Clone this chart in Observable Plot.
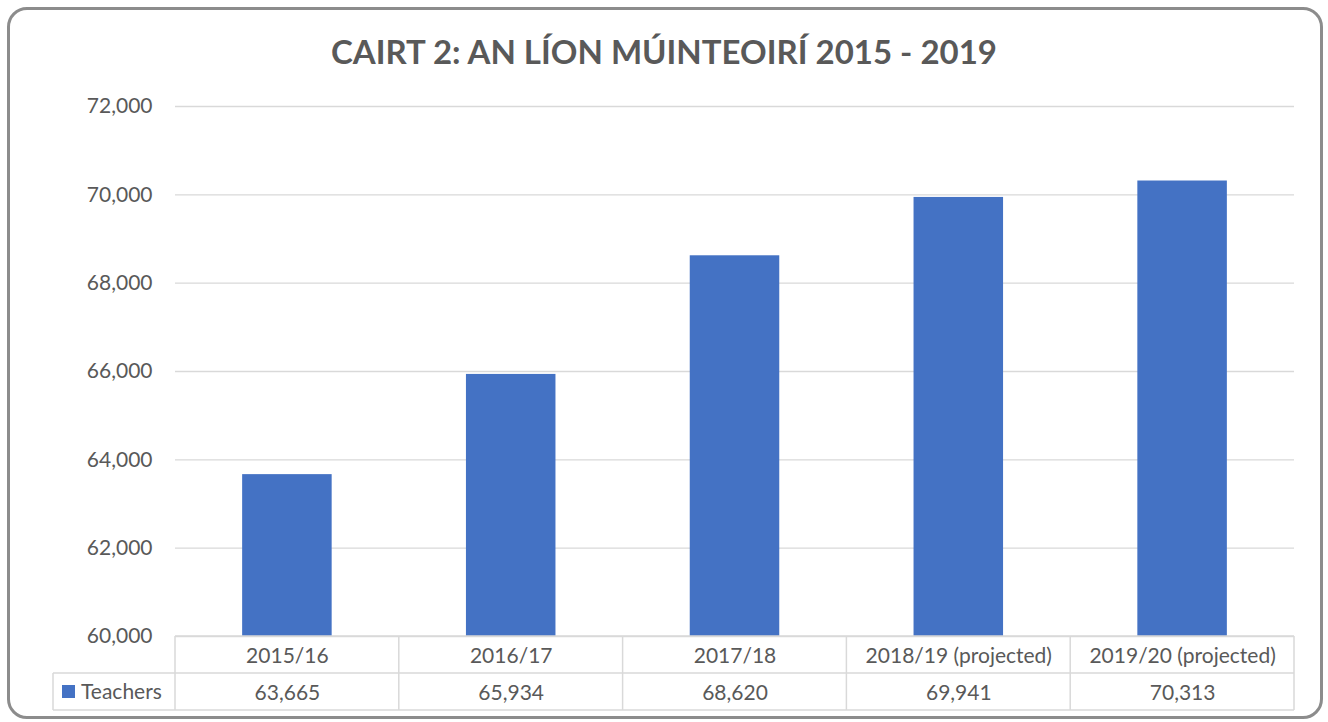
<!DOCTYPE html>
<html>
<head>
<meta charset="utf-8">
<script src="https://cdn.jsdelivr.net/npm/d3@7"></script>
<script src="https://cdn.jsdelivr.net/npm/@observablehq/plot@0.6"></script>
<style>
  html, body { margin: 0; padding: 0; background: #fff; }
  #wrap { position: relative; width: 1328px; height: 722px; overflow: hidden; font-family: Lato, "Open Sans", sans-serif; }
  #frame { position: absolute; left: 7px; top: 7px; width: 1310px; height: 706px; border: 3px solid #8c8c8c; border-radius: 20px; pointer-events: none; }
  #title { position: absolute; left: 0; width: 1328px; top: 30px; text-align: center; font-weight: bold; font-size: 33px; color: #595959; line-height: 42px; }
  #chart { position: absolute; left: 0; top: 0; }
</style>
</head>
<body>
<div id="wrap">
  <div id="chart"></div>
  <div id="title">CAIRT 2: AN LÍON MÚINTEOIRÍ 2015 - 2019</div>
  <div id="frame"></div>
</div>
<script>
const categories = ["2015/16", "2016/17", "2017/18", "2018/19 (projected)", "2019/20 (projected)"];
const teachers = [63665, 65934, 68620, 69941, 70313];
const seriesName = "Teachers";
const yTicks = [60000, 62000, 64000, 66000, 68000, 70000, 72000];

const data = categories.map((c, i) => ({category: c, value: teachers[i]}));
const fmt = d3.format(",");
const yMin = yTicks[0];
const textColor = "#595959";
const gridColor = "#d9d9d9";
const barColor = "#4472C4";
const rowH = 37;

const plot = Plot.plot({
  width: 1328,
  height: 722,
  marginTop: 106,
  marginBottom: 86,
  marginLeft: 175,
  marginRight: 34,
  style: {fontFamily: "Lato, 'Open Sans', sans-serif", fontSize: "21px", color: textColor, background: "transparent"},
  x: {domain: categories, paddingInner: 0.6, paddingOuter: 0.3, round: false, axis: null},
  y: {domain: [yTicks[0], yTicks[yTicks.length - 1]], axis: null},
  marks: [
    Plot.gridY(yTicks, {stroke: gridColor, strokeOpacity: 1, strokeWidth: 1.3}),
    Plot.axisY(yTicks, {tickSize: 0, tickPadding: 23, tickFormat: fmt, label: null, fill: textColor, fontSize: 21}),
    Plot.barY(data, {x: "category", y1: () => yMin, y2: "value", fill: barColor}),
    Plot.text(data, {x: "category", y: () => yMin, text: "category", dy: rowH / 2 + 1, fill: textColor, fontSize: 21}),
    Plot.text(data, {x: "category", y: () => yMin, text: d => fmt(d.value), dy: rowH * 1.5 + 1, fill: textColor, fontSize: 21})
  ]
});
document.getElementById("chart").appendChild(plot);

// data-table grid lines, positioned from the plot's own scales
const xs = plot.scale("x");
const ys = plot.scale("y");
const svg = d3.select(plot);
const y0 = ys.apply(yMin);
const edges = categories.map(c => xs.apply(c) + xs.bandwidth / 2 - xs.step / 2);
edges.push(edges[edges.length - 1] + xs.step);
const xLeft = edges[0], xRight = edges[edges.length - 1];
const legendLeft = 53;
const g = svg.append("g").attr("stroke", gridColor).attr("stroke-width", 1.5).attr("fill", "none");
g.append("line").attr("x1", xLeft).attr("x2", xRight).attr("y1", y0).attr("y2", y0);
g.append("line").attr("x1", legendLeft).attr("x2", xRight).attr("y1", y0 + rowH).attr("y2", y0 + rowH);
g.append("line").attr("x1", legendLeft).attr("x2", xRight).attr("y1", y0 + 2 * rowH).attr("y2", y0 + 2 * rowH);
g.append("line").attr("x1", legendLeft).attr("x2", legendLeft).attr("y1", y0 + rowH).attr("y2", y0 + 2 * rowH);
edges.forEach(e => g.append("line").attr("x1", e).attr("x2", e).attr("y1", y0).attr("y2", y0 + 2 * rowH));
// legend key in the table
svg.append("rect").attr("x", legendLeft + 9).attr("y", y0 + rowH * 1.5 - 6.5).attr("width", 13).attr("height", 13).attr("fill", barColor);
svg.append("text").attr("x", legendLeft + 28).attr("y", y0 + rowH * 1.5 + 1).attr("dy", "0.32em")
  .attr("text-anchor", "start")
  .attr("fill", textColor).attr("font-size", 21).attr("font-family", "Lato, 'Open Sans', sans-serif").text(seriesName);
</script>
</body>
</html>
